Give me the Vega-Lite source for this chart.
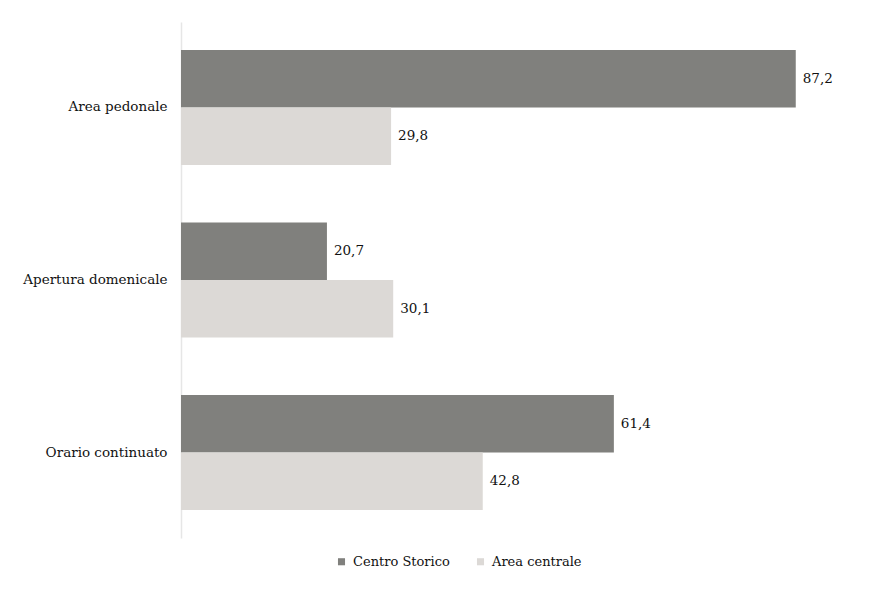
{
  "$schema": "https://vega.github.io/schema/vega-lite/v6.json",
  "width": 705,
  "height": 516,
  "autosize": "none",
  "padding": {"left": 181, "top": 22, "right": 3, "bottom": 53},
  "background": "white",
  "config": {
    "view": {"stroke": null},
    "locale": {"number": {"decimal": ",", "thousands": ".", "grouping": [3], "currency": ["€", ""]}},
    "font": "DejaVu Serif"
  },
  "data": {
    "values": [
      {"categoria": "Area pedonale", "zona": "Centro Storico", "valore": 87.2},
      {"categoria": "Area pedonale", "zona": "Area centrale", "valore": 29.8},
      {"categoria": "Apertura domenicale", "zona": "Centro Storico", "valore": 20.7},
      {"categoria": "Apertura domenicale", "zona": "Area centrale", "valore": 30.1},
      {"categoria": "Orario continuato", "zona": "Centro Storico", "valore": 61.4},
      {"categoria": "Orario continuato", "zona": "Area centrale", "valore": 42.8}
    ]
  },
  "encoding": {
    "y": {
      "field": "categoria",
      "type": "nominal",
      "sort": ["Area pedonale", "Apertura domenicale", "Orario continuato"],
      "scale": {"paddingInner": 0.333, "paddingOuter": 0.162},
      "axis": {
        "title": null,
        "ticks": false,
        "domainColor": "#e6e6e6",
        "domainWidth": 1.5,
        "labelFont": "DejaVu Serif",
        "labelFontSize": 13.5,
        "labelColor": "#111111",
        "labelPadding": 14
      }
    },
    "yOffset": {
      "field": "zona",
      "type": "nominal",
      "sort": ["Centro Storico", "Area centrale"],
      "scale": {"paddingInner": 0, "paddingOuter": 0}
    },
    "x": {
      "field": "valore",
      "type": "quantitative",
      "scale": {"domain": [0, 100], "nice": false},
      "axis": null
    }
  },
  "layer": [
    {
      "mark": {"type": "bar"},
      "encoding": {
        "color": {
          "field": "zona",
          "type": "nominal",
          "sort": ["Centro Storico", "Area centrale"],
          "scale": {"domain": ["Centro Storico", "Area centrale"], "range": ["#80807d", "#dcd9d6"]},
          "legend": {
            "title": null,
            "orient": "none",
            "legendX": 154,
            "legendY": 533,
            "direction": "horizontal",
            "symbolType": "square",
            "symbolSize": 50,
            "symbolStrokeWidth": 0,
            "labelFont": "DejaVu Serif",
            "labelFontSize": 13,
            "labelColor": "#111111",
            "labelOffset": 5,
            "columnPadding": 24
          }
        }
      }
    },
    {
      "mark": {"type": "text", "align": "left", "baseline": "middle", "dx": 7, "font": "DejaVu Serif", "fontSize": 13.5, "color": "#111111"},
      "encoding": {
        "text": {"field": "valore", "type": "quantitative", "format": ".1f"}
      }
    }
  ]
}
